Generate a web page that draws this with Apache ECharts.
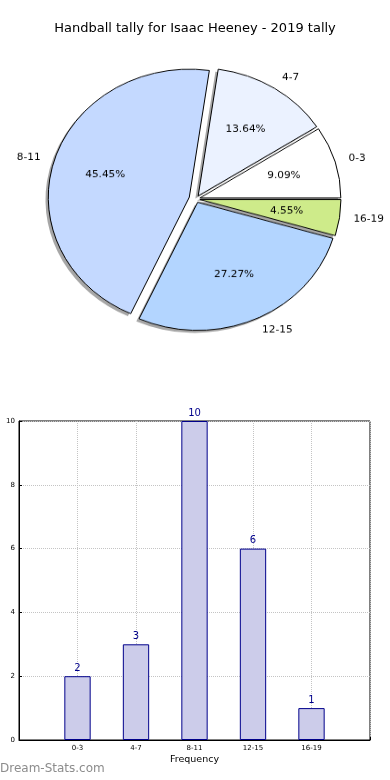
<!DOCTYPE html>
<html><head><meta charset="utf-8">
<script src="https://cdn.jsdelivr.net/npm/echarts@6/dist/echarts.min.js"></script>
<style>
html,body{margin:0;padding:0;background:#fff;}
#bar{position:absolute;left:0;top:0;width:390px;height:780px;}
#pie{position:absolute;left:0;top:0;width:390px;height:400px;transform:scaleY(0.908);transform-origin:195px 199px;}
</style></head><body>
<div id="bar"></div><div id="pie"></div>
<script>
// ---- data ----
const chartTitle = 'Handball tally for Isaac Heeney - 2019 tally';
const categories = ['0-3', '4-7', '8-11', '12-15', '16-19'];
const tallies = [2, 3, 10, 6, 1];
const yTicks = [0, 2, 4, 6, 8, 10];
const xAxisName = 'Frequency';
const watermark = 'Dream-Stats.com';

// ---- styles ----
const FONT = 'DejaVu Sans';
const sliceColors = ['#ffffff', '#ebf2ff', '#c4d9ff', '#b3d5ff', '#ceeb8a'];
const explodeOffsets = [4, 4, 7, 4, 4];
const R = 141, CX = 196, CY = 199;

// ---- pie ----
const pieSeries = [];
categories.forEach(function (name, i) {
  function mk(visibleStyle) {
    return categories.map(function (c, j) {
      return {
        name: c, value: tallies[j], selected: true,
        itemStyle: j === i ? visibleStyle : { color: 'transparent', borderWidth: 0 },
        label: { show: j === i }
      };
    });
  }
  const common = {
    type: 'pie', startAngle: 0, clockwise: false, selectedMode: 'multiple',
    selectedOffset: explodeOffsets[i], silent: true, animation: false,
    avoidLabelOverlap: false, emphasis: { disabled: true }
  };
  // shadow
  pieSeries.push(Object.assign({}, common, {
    z: 1, center: [CX - 2.8, CY + 2.8], radius: [0, R],
    label: { show: false }, labelLine: { show: false },
    data: mk({ color: '#a6a6a6', borderWidth: 0 }).map(function (d) { d.label = { show: false }; return d; })
  }));
  // wedge with outer name label
  pieSeries.push(Object.assign({}, common, {
    z: 2, center: [CX, CY], radius: [0, R],
    label: { position: 'outside', formatter: '{b}', fontFamily: FONT, fontSize: 10.5, color: '#000', distanceToLabelLine: 0 },
    labelLine: { show: false, length: 14, length2: 0 },
    data: mk({ color: sliceColors[i], borderColor: '#000', borderWidth: 1 })
  }));
  // percentage label
  pieSeries.push(Object.assign({}, common, {
    z: 3, center: [CX, CY], radius: [R * 0.2, R],
    label: { position: 'inside', formatter: '{d}%', fontFamily: FONT, fontSize: 10.5, color: '#000' },
    labelLine: { show: false },
    data: mk({ color: 'transparent', borderWidth: 0 })
  }));
});

const pie = echarts.init(document.getElementById('pie'));
pie.setOption({ animation: false, series: pieSeries });

// ---- bar ----
const xCats = [''].concat(categories, ['']);
const barData = [null].concat(tallies, [null]);

const bar = echarts.init(document.getElementById('bar'));
bar.setOption({
  animation: false,
  backgroundColor: '#fff',
  textStyle: { fontFamily: FONT },
  title: {
    text: chartTitle, left: 'center', top: 22, padding: 0,
    textStyle: { fontFamily: FONT, fontSize: 13, fontWeight: 'normal', color: '#000' }
  },
  graphic: [{
    type: 'text', left: 0, top: 763,
    style: { text: watermark, fill: '#8c8c8c', fontFamily: FONT, fontSize: 12 }
  }],
  grid: { left: 19, right: 20, top: 421, bottom: 40, show: true, borderColor: '#000', borderWidth: 1, containLabel: false },
  xAxis: {
    type: 'category', data: xCats, boundaryGap: false,
    axisLine: { lineStyle: { color: '#000', width: 1 } },
    axisTick: { inside: true, length: 3, lineStyle: { color: '#000' } },
    axisLabel: { fontSize: 7, color: '#000', margin: 5, fontFamily: FONT },
    splitLine: { show: true, lineStyle: { type: 'dotted', color: '#c4c4c4', width: 1 } },
    name: xAxisName, nameLocation: 'middle', nameGap: 15,
    nameTextStyle: { fontSize: 9.5, color: '#000', fontFamily: FONT }
  },
  yAxis: {
    type: 'value', min: yTicks[0], max: yTicks[yTicks.length - 1], interval: yTicks[1] - yTicks[0],
    axisLine: { show: true, lineStyle: { color: '#000', width: 1 } },
    axisTick: { show: true, inside: true, length: 3, lineStyle: { color: '#000' } },
    axisLabel: { fontSize: 7, color: '#000', margin: 4, fontFamily: FONT },
    splitLine: { show: true, lineStyle: { type: 'dotted', color: '#c4c4c4', width: 1 } }
  },
  series: [{
    type: 'bar', data: barData, barWidth: '45%',
    itemStyle: { color: '#ccccea', borderColor: '#00008b', borderWidth: 1 },
    label: { show: true, position: 'top', distance: 3, color: '#00008b', fontSize: 10, fontFamily: FONT }
  }]
});
</script>
</body></html>
